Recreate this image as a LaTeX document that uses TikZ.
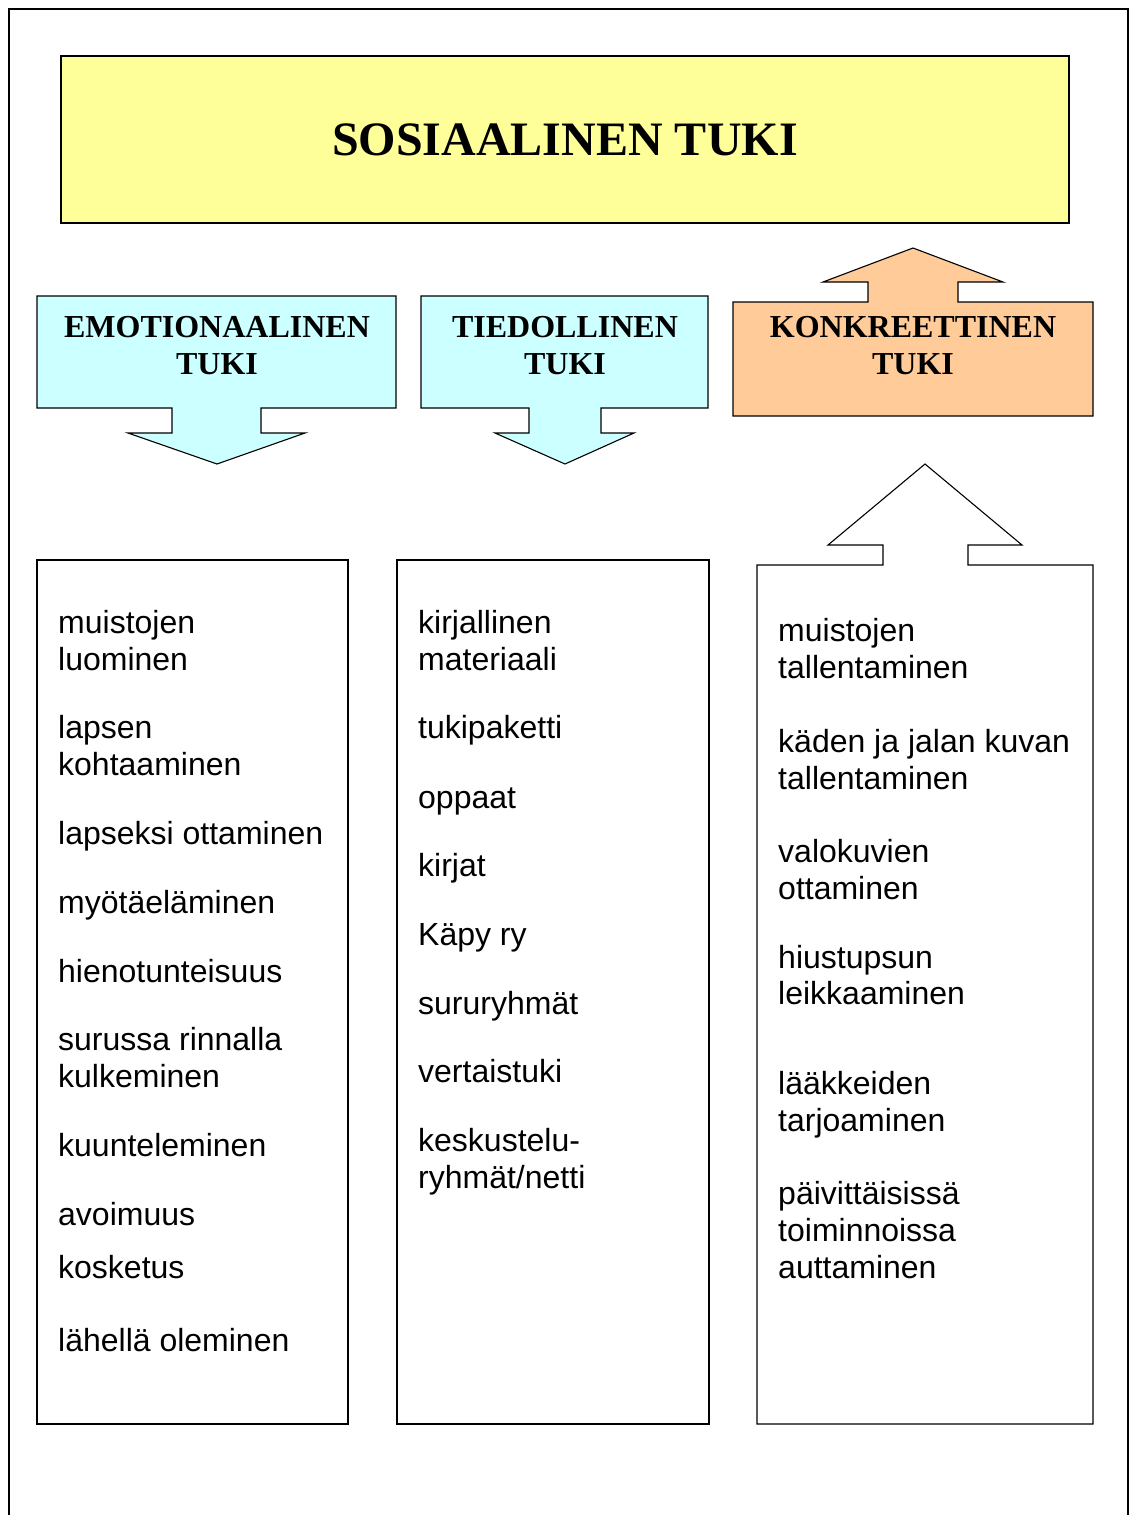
\documentclass[tikz,border=0pt]{standalone}
\usepackage{fontspec}
\setmainfont{Liberation Serif}
\newfontfamily\arialfont{Liberation Sans}
\usepackage{tikz}
\usetikzlibrary{positioning}
\definecolor{titleyellow}{RGB}{255,255,153}
\definecolor{tukicyan}{RGB}{204,255,255}
\definecolor{tukipeach}{RGB}{255,204,153}

\begin{document}
\begin{tikzpicture}[x=1pt,y=-1pt,
      framel/.style={line width=1.5pt},
      boxl/.style={draw=black,line width=1.1pt,line join=miter},
      hdr/.style={font=\fontsize{32}{37}\selectfont\bfseries,anchor=base,inner sep=0pt},
      item/.style={font=\arialfont\fontsize{32}{37}\selectfont,anchor=base west,inner sep=0pt}]
      \useasboundingbox (0,0) rectangle (1130,1515);
      \draw[framel] (9,1515) -- (9,9) -- (1128,9) -- (1128,1515);
      % otsikko
      \draw[boxl,fill=titleyellow] (61,56) rectangle (1069,223);
      \node[hdr,font=\fontsize{48}{56}\selectfont\bfseries] (title) at (565,155) {SOSIAALINEN TUKI};
      % tuen muodot
      \draw[boxl,fill=tukicyan] (37,296) -- (396,296) -- (396,408) -- (261,408) -- (261,433) -- (305,433)
        -- (217,464) -- (128,433) -- (172,433) -- (172,408) -- (37,408) -- cycle;
      \draw[boxl,fill=tukicyan] (421,296) -- (708,296) -- (708,408) -- (601,408) -- (601,433) -- (634,433)
        -- (565,464) -- (495,433) -- (529,433) -- (529,408) -- (421,408) -- cycle;
      \draw[boxl,fill=tukipeach] (733,302) -- (868,302) -- (868,282) -- (823,282) -- (913,248) -- (1003,282)
        -- (958,282) -- (958,302) -- (1093,302) -- (1093,416) -- (733,416) -- cycle;
      \node[hdr] (emo) at (217,337) {EMOTIONAALINEN};
      \node[hdr] (emotuki) at (217,374) {TUKI};
      \node[hdr] (tied) at (565,337) {TIEDOLLINEN};
      \node[hdr] (tiedtuki) at (565,374) {TUKI};
      \node[hdr] (konk) at (913,337) {KONKREETTINEN};
      \node[hdr] (konktuki) at (913,374) {TUKI};
      % sarakkeet
      \draw[boxl] (37,560) rectangle (348,1424);
      \draw[boxl] (397,560) rectangle (709,1424);
      \draw[boxl] (757,565) -- (883,565) -- (883,545) -- (828,545) -- (925,464) -- (1022,545)
        -- (968,545) -- (968,565) -- (1093,565) -- (1093,1424) -- (757,1424) -- cycle;
      \foreach \yy/\txt [count=\i] in {633/muistojen, 670/luominen, 738/lapsen, 775/kohtaaminen,
          844/lapseksi ottaminen, 913/myötäeläminen, 982/hienotunteisuus, 1050/surussa rinnalla,
          1087/kulkeminen, 1156/kuunteleminen, 1225/avoimuus, 1278/kosketus, 1351/lähellä oleminen}
        \node[item] (emo\i) at (58,\yy) {\txt};
      \foreach \yy/\txt [count=\i] in {633/kirjallinen, 670/materiaali, 738/tukipaketti, 808/oppaat,
          876/kirjat, 945/Käpy ry, 1014/sururyhmät, 1082/vertaistuki, 1151/keskustelu-, 1188/{ryhmät/netti}}
        \node[item] (tied\i) at (418,\yy) {\txt};
      \foreach \yy/\txt [count=\i] in {641/muistojen, 678/tallentaminen, 752/käden ja jalan kuvan,
          789/tallentaminen, 862/valokuvien, 899/ottaminen, 968/hiustupsun, 1004/leikkaaminen,
          1094/lääkkeiden, 1131/tarjoaminen, 1204/päivittäisissä, 1241/toiminnoissa, 1278/auttaminen}
        \node[item] (konk\i) at (778,\yy) {\txt};
    \end{tikzpicture}
\end{document}
